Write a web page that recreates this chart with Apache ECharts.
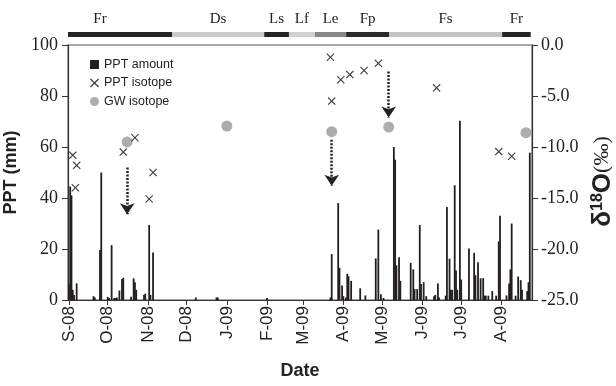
<!DOCTYPE html>
<html>
<head>
<meta charset="utf-8">
<script src="https://cdn.jsdelivr.net/npm/echarts@6/dist/echarts.min.js"></script>
<style>html,body{margin:0;padding:0;background:#fff;}#c{width:616px;height:386px;}</style>
</head>
<body>
<div id="c"></div>
<script>
// ---- Data ----
const axisStart = '2008-09-01';
const axisEnd = '2009-08-24';
const monthInitials = ['J','F','M','A','M','J','J','A','S','O','N','D'];

const pptDates = [
 '2008-09-01','2008-09-02','2008-09-03','2008-09-04','2008-09-05','2008-09-07','2008-09-20','2008-09-21','2008-09-25','2008-09-26',
 '2008-10-01','2008-10-02','2008-10-04','2008-10-06','2008-10-07','2008-10-08','2008-10-10','2008-10-12','2008-10-13','2008-10-19',
 '2008-10-21','2008-10-22','2008-10-23','2008-10-29','2008-10-30','2008-11-02','2008-11-03','2008-11-05','2008-12-08','2008-12-24',
 '2008-12-25','2009-02-01','2009-03-22','2009-03-23','2009-03-28','2009-03-29','2009-03-31','2009-04-01','2009-04-03','2009-04-04',
 '2009-04-05','2009-04-07','2009-04-14','2009-04-18','2009-04-26','2009-04-28','2009-04-30','2009-05-02','2009-05-10','2009-05-11',
 '2009-05-12','2009-05-14','2009-05-15','2009-05-23','2009-05-25','2009-05-26','2009-05-28','2009-05-30','2009-05-31','2009-06-02',
 '2009-06-04','2009-06-10','2009-06-11','2009-06-13','2009-06-14','2009-06-19','2009-06-20','2009-06-22','2009-06-23','2009-06-24',
 '2009-06-26','2009-06-27','2009-06-28','2009-06-30','2009-07-01','2009-07-07','2009-07-11','2009-07-12','2009-07-14','2009-07-16',
 '2009-07-18','2009-07-19','2009-07-20','2009-07-22','2009-07-25','2009-07-28','2009-07-30','2009-07-31','2009-08-05','2009-08-07',
 '2009-08-08','2009-08-09','2009-08-12','2009-08-14','2009-08-16','2009-08-17','2009-08-21','2009-08-22','2009-08-23'
];
const pptAmount = [
 6.5,44.5,41,4,2,6.5,1.5,1,19.6,50,
 1.2,0.8,21.5,0.8,0.8,1,3.7,8.2,8.7,1.3,
 8.5,7,4,2,2.5,29.4,2,18.6,1,1,
 1,0.8,1,18,38,12.6,5.7,1.5,1,10.3,
 9.3,7.5,4.6,1.8,16.3,27.6,2.3,0.8,60,55,
 13.6,16.8,7.5,14.5,12,4.3,4.3,29.4,6.3,7,
 1.5,1.5,2,6.5,1,1.7,36.5,16.2,4,4,
 45,11.6,4,70.3,8,20.2,18.5,9.7,14.8,8.5,
 8.6,1.7,1.7,1.7,3.5,1.7,23,33,1.8,6.5,
 12,30,1.7,9.2,7.8,4,3.5,7,57.8
];

const pptIsoDates = ['2008-09-04','2008-09-06','2008-09-07','2008-10-13','2008-10-22','2008-11-02','2008-11-05',
 '2009-03-22','2009-03-23','2009-03-30','2009-04-06','2009-04-17','2009-04-28','2009-06-12','2009-07-30','2009-08-09'];
const pptIsoValues = [-10.8,-14.0,-11.8,-10.5,-9.1,-15.1,-12.5,-1.2,-5.5,-3.4,-2.9,-2.5,-1.8,-4.2,-10.45,-10.9];

const gwIsoDates = ['2008-10-16','2009-01-01','2009-03-23','2009-05-06','2009-08-20'];
const gwIsoValues = [-9.5,-7.95,-8.5,-8.05,-8.6];

const arrowDates = ['2008-10-16','2009-03-23','2009-05-06'];
const arrowFrom = [-12.0,-9.3,-2.6];
const arrowTo = [-16.6,-13.8,-7.1];

const seasonNames = ['Fr','Ds','Ls','Lf','Le','Fp','Fs','Fr'];
const seasonStarts = ['2008-09-01','2008-11-20','2009-01-30','2009-02-18','2009-03-10','2009-04-03','2009-05-06','2009-08-01'];
const seasonEnds   = ['2008-11-20','2009-01-30','2009-02-18','2009-03-10','2009-04-03','2009-05-06','2009-08-01','2009-08-23'];

// ---- Styles ----
const seasonShade = {Fr:'#262324', Ds:'#cccccc', Ls:'#262324', Lf:'#d2d2d2', Le:'#878787', Fp:'#2a2a2a', Fs:'#c4c4c4'};
const SANS = 'Liberation Sans', SERIF = 'Liberation Serif';
const crossPath = 'path://M0,1L1,0L5,4L9,0L10,1L6,5L10,9L9,10L5,6L1,10L0,9L4,5Z';

const zip = (a,b) => a.map((d,i)=>[d,b[i]]);

const chart = echarts.init(document.getElementById('c'), null, {renderer:'canvas'});
const option = {
  animation: false,
  grid: [
    {left:68, right:84, top:45, bottom:86, containLabel:false, outerBoundsMode:'none',
     show:true, borderColor:'#8a8a8a', borderWidth:1.5},
    {left:68, right:84, top:32, height:5, containLabel:false, outerBoundsMode:'none'}
  ],
  legend: {
    orient:'vertical', left:85, top:53, itemWidth:9, itemHeight:9, itemGap:5.5,
    textStyle:{fontFamily:SANS, fontSize:12.5, color:'#222'},
    data:[{name:'PPT amount', icon:'rect'}, {name:'PPT isotope'}, {name:'GW isotope', icon:'circle'}]
  },
  xAxis: [
    {type:'time', gridIndex:0, min:axisStart, max:axisEnd, splitNumber:12,
     minInterval:28*864e5, maxInterval:31*864e5,
     axisLine:{lineStyle:{color:'#333', width:1.2}},
     axisTick:{show:true, length:5, lineStyle:{color:'#333'}},
     splitLine:{show:false},
     axisLabel:{rotate:90, fontFamily:SANS, fontSize:17, color:'#222', margin:6,
       formatter:function(v){const d=new Date(v); return monthInitials[d.getMonth()]+'-'+String(d.getFullYear()).slice(2);}},
     name:'Date', nameLocation:'middle', nameGap:62,
     nameTextStyle:{fontFamily:SANS, fontWeight:'bold', fontSize:18, color:'#222'}},
    {type:'time', gridIndex:1, min:axisStart, max:axisEnd, show:false}
  ],
  yAxis: [
    {type:'value', gridIndex:0, min:0, max:100, interval:20, position:'left',
     axisLine:{show:true, lineStyle:{color:'#333', width:1.2}},
     axisTick:{show:true, length:6, lineStyle:{color:'#333'}},
     splitLine:{show:false},
     axisLabel:{fontFamily:SERIF, fontSize:18, color:'#222', margin:10},
     name:'PPT (mm)', nameLocation:'middle', nameRotate:90, nameGap:37,
     nameTextStyle:{fontFamily:SANS, fontWeight:'bold', fontSize:18, color:'#222'}},
    {type:'value', gridIndex:0, min:-25, max:0, interval:5, position:'right',
     axisLine:{show:true, lineStyle:{color:'#333', width:1.2}},
     axisTick:{show:true, length:6, lineStyle:{color:'#333'}},
     splitLine:{show:false},
     axisLabel:{fontFamily:SERIF, fontSize:18, color:'#222', margin:9, formatter:v=>v.toFixed(1)},
     name:'{d|δ}{s|18}{d|O}{p|(‰)}', nameLocation:'middle', nameRotate:90, nameGap:55,
     nameTextStyle:{color:'#222', padding:[0,18,0,0], rich:{
       d:{fontFamily:SANS, fontWeight:'bold', fontSize:26, color:'#222'},
       s:{fontFamily:SANS, fontWeight:'bold', fontSize:16, color:'#222', padding:[0,0,10,0]},
       p:{fontFamily:SERIF, fontSize:22, color:'#222'}
     }}},
    {type:'value', gridIndex:1, min:0, max:1, show:false}
  ],
  series: [
    {name:'PPT amount', type:'bar', xAxisIndex:0, yAxisIndex:0, barWidth:1.8,
     itemStyle:{color:'#231f20'}, data: zip(pptDates, pptAmount)},
    {name:'PPT isotope', type:'scatter', xAxisIndex:0, yAxisIndex:1, symbol:crossPath, symbolSize:8,
     itemStyle:{color:'#111'}, data: zip(pptIsoDates, pptIsoValues), z:4},
    {name:'GW isotope', type:'scatter', xAxisIndex:0, yAxisIndex:1, symbol:'circle', symbolSize:11,
     itemStyle:{color:'#999999'}, data: zip(gwIsoDates, gwIsoValues), z:3,
     markLine:{silent:true, symbol:['none','arrow'], symbolSize:11, animation:false,
       label:{show:false}, emphasis:{disabled:true},
       lineStyle:{type:[2,1.5], width:2.5, color:'#222'},
       data: arrowDates.map((d,i)=>[{coord:[d, arrowFrom[i]]},{coord:[d, arrowTo[i]]}])}},
    {name:'seasons', type:'scatter', xAxisIndex:1, yAxisIndex:2, symbolSize:0, data:[[axisStart, 0.5]],
     markArea:{silent:true,
       label:{position:'top', distance:5, fontFamily:SERIF, fontSize:15, color:'#222'},
       data: seasonNames.map((n,i)=>[
         {name:n, xAxis:seasonStarts[i], itemStyle:{color:seasonShade[n]}, label:(i===0?{offset:[-20,0]}:{})},
         {xAxis:seasonEnds[i]}])}}
  ]
};
chart.setOption(option);
</script>
</body>
</html>
